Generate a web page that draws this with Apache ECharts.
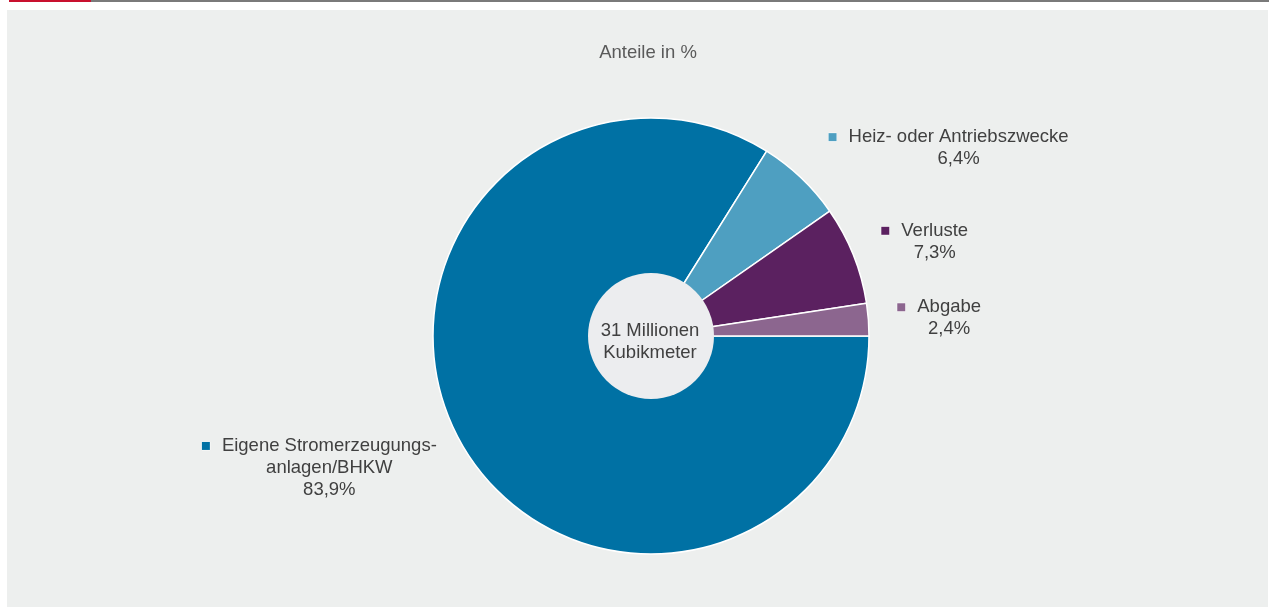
<!DOCTYPE html>
<html><head><meta charset="utf-8">
<script src="https://cdn.jsdelivr.net/npm/echarts@6/dist/echarts.min.js"></script>
<style>
html,body{margin:0;padding:0;background:#fff;}
#wrap{position:relative;width:1269px;height:607px;overflow:hidden;}
#red{position:absolute;left:9px;top:0;width:82px;height:2px;background:#c8102e;}
#gray{position:absolute;left:91px;top:0;width:1178px;height:2px;background:#7a7a7a;}
#panel{position:absolute;left:7px;top:10px;width:1261px;height:597px;background:#edefee;}
#chart{position:absolute;left:0;top:0;width:1269px;height:607px;}
</style></head><body>
<div id="wrap"><div id="red"></div><div id="gray"></div><div id="panel"></div><div id="chart"></div></div>
<script>
// ---- data ----
const categories = ['Eigene Stromerzeugungs-\nanlagen/BHKW', 'Heiz- oder Antriebszwecke', 'Verluste', 'Abgabe'];
const values = [83.9, 6.4, 7.3, 2.4];
const titleText = 'Anteile in %';
const centerText = '31 Millionen\nKubikmeter';

// ---- styles ----
const colors = ['#0071a4', '#4e9fc1', '#5b2160', '#8c668f'];
const labelOffsets = [[40, 5], [-8, 2], [-18, 3], [-20, 2]];
const FONT = '"Liberation Sans", Arial, sans-serif';
const FS = 18.5;

const rich = {
  t: { fontSize: FS, fontFamily: FONT, color: '#404040', lineHeight: 22, align: 'center' },
  g: { width: 12, align: 'center', lineHeight: 22 },
  s: { width: 20, align: 'center', lineHeight: 22 }
};
colors.forEach((c, i) => {
  rich['m' + i] = { width: 8, height: 8, backgroundColor: c, borderColor: '#ffffff', borderWidth: 0.5, align: 'center', verticalAlign: 'middle' };
});

const chart = echarts.init(document.getElementById('chart'), null, { renderer: 'canvas' });
chart.setOption({
  backgroundColor: 'transparent',
  animation: false,
  title: {
    text: titleText, left: 643, top: 38, textAlign: 'center',
    textStyle: { fontSize: FS, fontWeight: 'normal', color: '#5a5a5a', fontFamily: FONT }
  },
  series: [{
    type: 'pie',
    center: [651, 336],
    radius: [0, 218],
    startAngle: 0,
    clockwise: true,
    avoidLabelOverlap: false,
    silent: true,
    itemStyle: { borderColor: '#ffffff', borderWidth: 1.5 },
    label: {
      show: true, position: 'outside', distanceToLabelLine: 5,
      formatter: p => {
        const lines = p.name.split('\n');
        let s = '{m' + p.dataIndex + '|}{g|}{t|' + lines[0] + '}{s|}';
        for (let i = 1; i < lines.length; i++) s += '\n{t|' + lines[i] + '}';
        s += '\n{t|' + p.value.toFixed(1).replace('.', ',') + '%}';
        return s;
      },
      rich: rich
    },
    labelLine: { show: false, length: 44, length2: 0 },
    labelLayout: p => ({ dx: labelOffsets[p.dataIndex][0], dy: labelOffsets[p.dataIndex][1] }),
    emphasis: { disabled: true },
    data: categories.map((n, i) => ({ name: n, value: values[i], itemStyle: { color: colors[i] } }))
  }],
  graphic: [
    { type: 'circle', z: 100, shape: { cx: 651, cy: 336, r: 63 }, style: { fill: '#ecedef' } },
    { type: 'text', z: 101, x: 650, y: 342, style: { text: centerText, fill: '#404040', font: FS + 'px ' + FONT, textAlign: 'center', textVerticalAlign: 'middle', lineHeight: 22 } }
  ]
});
</script>
</body></html>
